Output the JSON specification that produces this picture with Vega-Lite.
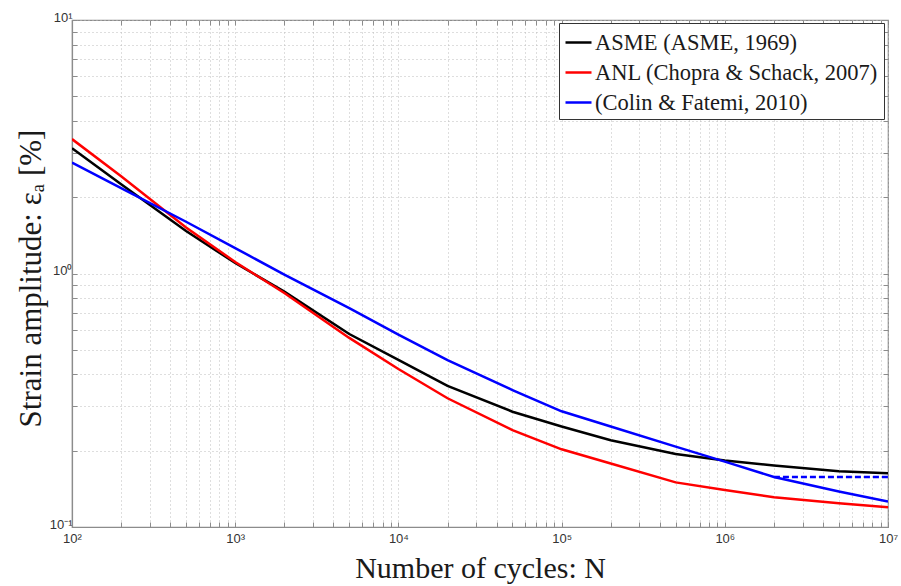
{
  "$schema": "https://vega.github.io/schema/vega-lite/v6.json",
  "width": 816,
  "height": 507,
  "autosize": "none",
  "padding": {"left": 72, "top": 20, "right": 13, "bottom": 59},
  "background": "white",
  "config": {
    "view": {"stroke": "#8c8c8c", "strokeWidth": 1.2},
    "axis": {
      "labelFont": "Liberation Sans",
      "labelFontSize": 13,
      "labelColor": "#333333",
      "domainColor": "#8c8c8c",
      "domainWidth": 1.2,
      "tickColor": "#8c8c8c",
      "tickSize": -5,
      "gridColor": "#bdbdbd",
      "gridDash": [1, 3],
      "gridWidth": 1,
      "labelOverlap": false,
      "labelFlush": false,
      "titleFont": "Liberation Serif",
      "titleFontWeight": "normal",
      "titleColor": "#1a1a1a"
    },
    "legend": {
      "labelFont": "Liberation Serif",
      "labelFontSize": 22.5
    }
  },
  "layer": [
    {
      "data": {
        "values": [
          {"N": 100, "strain": 3.12, "curve": "ASME (ASME, 1969)"},
          {"N": 200, "strain": 2.25, "curve": "ASME (ASME, 1969)"},
          {"N": 500, "strain": 1.47, "curve": "ASME (ASME, 1969)"},
          {"N": 1000, "strain": 1.10, "curve": "ASME (ASME, 1969)"},
          {"N": 2000, "strain": 0.848, "curve": "ASME (ASME, 1969)"},
          {"N": 5000, "strain": 0.577, "curve": "ASME (ASME, 1969)"},
          {"N": 10000, "strain": 0.456, "curve": "ASME (ASME, 1969)"},
          {"N": 20000, "strain": 0.360, "curve": "ASME (ASME, 1969)"},
          {"N": 50000, "strain": 0.285, "curve": "ASME (ASME, 1969)"},
          {"N": 100000, "strain": 0.249, "curve": "ASME (ASME, 1969)"},
          {"N": 200000, "strain": 0.220, "curve": "ASME (ASME, 1969)"},
          {"N": 500000, "strain": 0.194, "curve": "ASME (ASME, 1969)"},
          {"N": 1000000, "strain": 0.183, "curve": "ASME (ASME, 1969)"},
          {"N": 2000000, "strain": 0.175, "curve": "ASME (ASME, 1969)"},
          {"N": 5000000, "strain": 0.166, "curve": "ASME (ASME, 1969)"},
          {"N": 10000000, "strain": 0.163, "curve": "ASME (ASME, 1969)"},
          {"N": 100, "strain": 3.39, "curve": "ANL (Chopra & Schack, 2007)"},
          {"N": 200, "strain": 2.42, "curve": "ANL (Chopra & Schack, 2007)"},
          {"N": 500, "strain": 1.52, "curve": "ANL (Chopra & Schack, 2007)"},
          {"N": 1000, "strain": 1.11, "curve": "ANL (Chopra & Schack, 2007)"},
          {"N": 2000, "strain": 0.838, "curve": "ANL (Chopra & Schack, 2007)"},
          {"N": 5000, "strain": 0.557, "curve": "ANL (Chopra & Schack, 2007)"},
          {"N": 10000, "strain": 0.420, "curve": "ANL (Chopra & Schack, 2007)"},
          {"N": 20000, "strain": 0.322, "curve": "ANL (Chopra & Schack, 2007)"},
          {"N": 50000, "strain": 0.241, "curve": "ANL (Chopra & Schack, 2007)"},
          {"N": 100000, "strain": 0.2025, "curve": "ANL (Chopra & Schack, 2007)"},
          {"N": 200000, "strain": 0.178, "curve": "ANL (Chopra & Schack, 2007)"},
          {"N": 500000, "strain": 0.150, "curve": "ANL (Chopra & Schack, 2007)"},
          {"N": 1000000, "strain": 0.140, "curve": "ANL (Chopra & Schack, 2007)"},
          {"N": 2000000, "strain": 0.131, "curve": "ANL (Chopra & Schack, 2007)"},
          {"N": 5000000, "strain": 0.124, "curve": "ANL (Chopra & Schack, 2007)"},
          {"N": 10000000, "strain": 0.1196, "curve": "ANL (Chopra & Schack, 2007)"},
          {"N": 100, "strain": 2.74, "curve": "(Colin & Fatemi, 2010)"},
          {"N": 200, "strain": 2.17, "curve": "(Colin & Fatemi, 2010)"},
          {"N": 500, "strain": 1.6, "curve": "(Colin & Fatemi, 2010)"},
          {"N": 1000, "strain": 1.26, "curve": "(Colin & Fatemi, 2010)"},
          {"N": 2000, "strain": 0.99, "curve": "(Colin & Fatemi, 2010)"},
          {"N": 5000, "strain": 0.73, "curve": "(Colin & Fatemi, 2010)"},
          {"N": 10000, "strain": 0.574, "curve": "(Colin & Fatemi, 2010)"},
          {"N": 20000, "strain": 0.455, "curve": "(Colin & Fatemi, 2010)"},
          {"N": 50000, "strain": 0.347, "curve": "(Colin & Fatemi, 2010)"},
          {"N": 100000, "strain": 0.286, "curve": "(Colin & Fatemi, 2010)"},
          {"N": 200000, "strain": 0.249, "curve": "(Colin & Fatemi, 2010)"},
          {"N": 500000, "strain": 0.2075, "curve": "(Colin & Fatemi, 2010)"},
          {"N": 1000000, "strain": 0.181, "curve": "(Colin & Fatemi, 2010)"},
          {"N": 2000000, "strain": 0.1575, "curve": "(Colin & Fatemi, 2010)"},
          {"N": 5000000, "strain": 0.138, "curve": "(Colin & Fatemi, 2010)"},
          {"N": 10000000, "strain": 0.126, "curve": "(Colin & Fatemi, 2010)"}
        ]
      },
      "mark": {"type": "line", "strokeWidth": 2.5, "clip": true},
      "encoding": {
        "x": {
          "field": "N",
          "type": "quantitative",
          "scale": {"type": "log", "domain": [100, 10000000], "nice": false},
          "axis": {
            "orient": "bottom",
            "grid": true,
            "values": [100, 200, 300, 400, 500, 600, 700, 800, 900,
                       1000, 2000, 3000, 4000, 5000, 6000, 7000, 8000, 9000,
                       10000, 20000, 30000, 40000, 50000, 60000, 70000, 80000, 90000,
                       100000, 200000, 300000, 400000, 500000, 600000, 700000, 800000, 900000,
                       1000000, 2000000, 3000000, 4000000, 5000000, 6000000, 7000000, 8000000, 9000000,
                       10000000],
            "labelExpr": "['10²','10³','10⁴','10⁵','10⁶','10⁷'][indexof([100,1000,10000,100000,1000000,10000000], datum.value)] || ''",
            "labelPadding": 10,
            "title": "Number of cycles: N",
            "titleFontSize": 30,
            "titleX": 408,
            "titleY": 50,
            "titleAlign": "center",
            "titleBaseline": "alphabetic"
          }
        },
        "y": {
          "field": "strain",
          "type": "quantitative",
          "scale": {"type": "log", "domain": [0.1, 10], "nice": false},
          "axis": {
            "orient": "left",
            "grid": true,
            "values": [0.1, 0.2, 0.3, 0.4, 0.5, 0.6, 0.7, 0.8, 0.9,
                       1, 2, 3, 4, 5, 6, 7, 8, 9, 10],
            "labelExpr": "['10⁻¹','10⁰','10¹'][indexof([0.1,1,10], datum.value)] || ''",
            "labelPadding": 5,
            "labelOffset": -3,
            "labelBaseline": "middle",
            "title": "Strain amplitude: εₐ [%]",
            "titleFontSize": 31,
            "titleX": -41,
            "titleY": 258,
            "titleAngle": -90,
            "titleAlign": "center",
            "titleBaseline": "middle"
          }
        },
        "color": {
          "field": "curve",
          "type": "nominal",
          "sort": null,
          "scale": {
            "domain": ["ASME (ASME, 1969)", "ANL (Chopra & Schack, 2007)", "(Colin & Fatemi, 2010)"],
            "range": ["#000000", "#ff0000", "#0000ff"]
          },
          "legend": {
            "title": null,
            "orient": "none",
            "legendX": 487,
            "legendY": 3,
            "fillColor": "white",
            "strokeColor": "#333333",
            "padding": 5,
            "symbolType": "stroke",
            "symbolSize": 676,
            "symbolStrokeWidth": 2.5,
            "labelFont": "Liberation Serif",
            "labelFontSize": 22.5,
            "labelColor": "#1a1a1a",
            "labelOffset": 2,
            "labelLimit": 400,
            "rowPadding": 4
          }
        }
      }
    },
    {
      "data": {
        "values": [
          {"N": 2000000, "strain": 0.1575},
          {"N": 10000000, "strain": 0.1575}
        ]
      },
      "mark": {"type": "line", "strokeWidth": 2.5, "color": "#0000ff", "strokeDash": [6, 3]},
      "encoding": {
        "x": {
          "field": "N",
          "type": "quantitative",
          "axis": {
            "orient": "top",
            "grid": false,
            "labels": false,
            "title": null,
            "domain": false,
            "values": [100, 200, 300, 400, 500, 600, 700, 800, 900,
                       1000, 2000, 3000, 4000, 5000, 6000, 7000, 8000, 9000,
                       10000, 20000, 30000, 40000, 50000, 60000, 70000, 80000, 90000,
                       100000, 200000, 300000, 400000, 500000, 600000, 700000, 800000, 900000,
                       1000000, 2000000, 3000000, 4000000, 5000000, 6000000, 7000000, 8000000, 9000000,
                       10000000]
          }
        },
        "y": {
          "field": "strain",
          "type": "quantitative",
          "axis": {
            "orient": "right",
            "grid": false,
            "labels": false,
            "title": null,
            "domain": false,
            "values": [0.1, 0.2, 0.3, 0.4, 0.5, 0.6, 0.7, 0.8, 0.9,
                       1, 2, 3, 4, 5, 6, 7, 8, 9, 10]
          }
        }
      }
    }
  ],
  "resolve": {"axis": {"x": "independent", "y": "independent"}}
}
